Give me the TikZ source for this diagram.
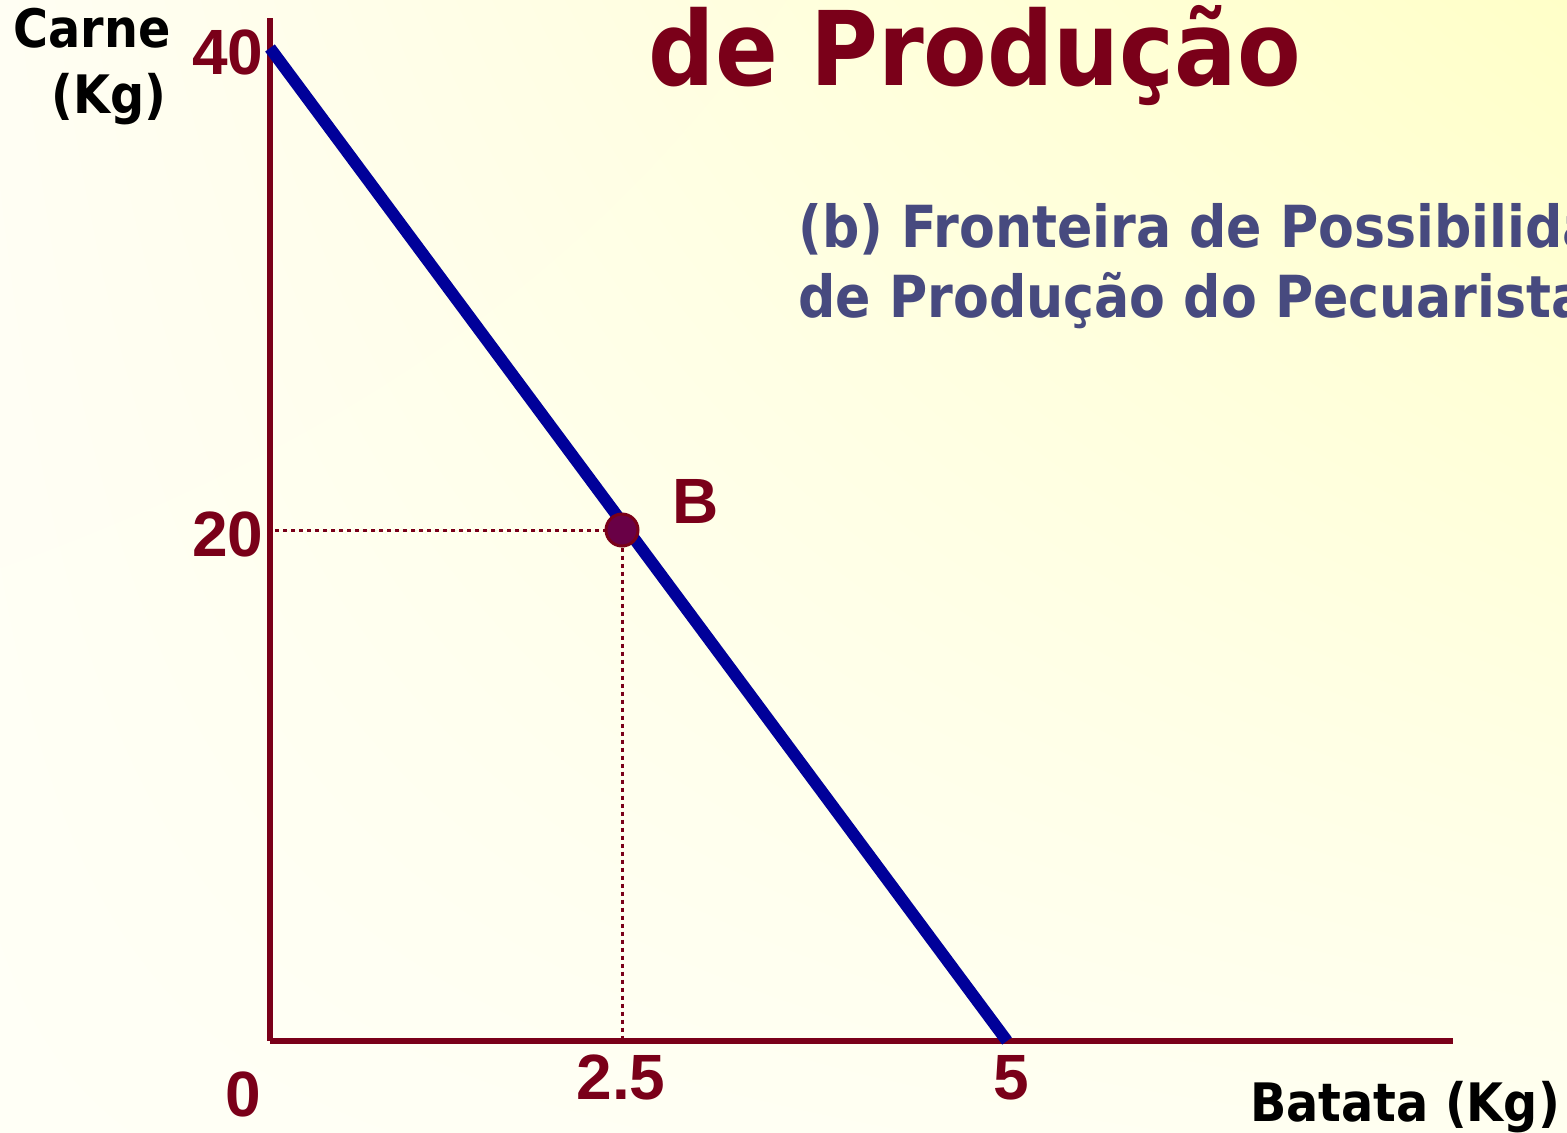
\documentclass[tikz,border=0pt]{standalone}
\usepackage{fontspec}
\usetikzlibrary{shadings}
\setmainfont{DejaVu Sans}
\newfontfamily\condf[BoldFont={* Bold}]{DejaVu Sans Condensed}
\newfontfamily\numf{Liberation Sans}
\definecolor{axred}{HTML}{7A0019}
\definecolor{ppfblue}{HTML}{000099}
\definecolor{subblue}{HTML}{474A7F}
\definecolor{ptfill}{HTML}{690046}
\definecolor{bgA}{HTML}{FFFFF6}
\definecolor{bgB}{HTML}{FFFFC8}
\definecolor{bgC}{HTML}{FFFEF3}
\definecolor{bgD}{HTML}{FFFFF0}
\begin{document}
\begin{tikzpicture}[x=0.5pt,y=-0.5pt,
  numlbl/.style={inner sep=0pt,anchor=base,text=axred,font=\numf\bfseries\fontsize{32pt}{36pt}\selectfont},
  axlbl/.style={inner sep=0pt,anchor=base,text=black,font=\condf\bfseries\fontsize{26.5pt}{31pt}\selectfont},
  axisline/.style={draw=axred,line width=3pt},
  guide/.style={draw=axred,line width=1.5pt,dash pattern=on 2pt off 2pt}]
\useasboundingbox (0,0) rectangle (1567,1132);
\clip (0,0) rectangle (1567,1132);
\shade[lower left=bgA,lower right=bgD,upper left=bgC,upper right=bgB] (0,0) rectangle (1567,1132);
% title and subtitle
\node[inner sep=0pt,anchor=base,text=axred,font=\condf\bfseries\fontsize{51.5pt}{60pt}\selectfont] (title) at (975,85) {de Produção};
\node[inner sep=0pt,anchor=base west,text=subblue,font=\condf\bfseries\fontsize{29pt}{35pt}\selectfont] (sub1) at (798,247) {(b) Fronteira de Possibilidades};
\node[inner sep=0pt,anchor=base west,text=subblue,font=\condf\bfseries\fontsize{29pt}{35pt}\selectfont] (sub2) at (798,317) {de Produção do Pecuarista};
% axes
\coordinate (ytop) at (270,18);
\coordinate (orig) at (270,1041);
\coordinate (xend) at (1453,1041);
\draw[axisline] (ytop) -- (orig);
\draw[axisline] (orig) -- (xend);
% frontier
\coordinate (f40) at (270,48);
\coordinate (f5) at (1007,1041);
\draw[draw=ppfblue,line width=6pt] (f40) -- (f5);
% guides
\coordinate (g20) at (275,530);
\coordinate (g25) at (622,1038);
\node[circle,fill=ptfill,draw=axred,line width=1.5pt,minimum size=16pt,inner sep=0pt] (B) at (622,530) {};
\draw[guide] (g20) -- (B.west);
\draw[guide] (B.south) -- (g25);
% labels
\node[numlbl] (l40) at (228,74) {40};
\node[numlbl] (l20) at (228,556) {20};
\node[numlbl] (l0) at (243,1116) {0};
\node[numlbl] (l25) at (621,1099) {2.5};
\node[numlbl] (l5) at (1011,1099) {5};
\node[numlbl] (lB) at (696,523) {B};
\node[axlbl] (carne) at (92,47) {Carne};
\node[axlbl] (kg) at (109,113) {(Kg)};
\node[axlbl] (batata) at (1405,1121) {Batata (Kg)};
\end{tikzpicture}
\end{document}
